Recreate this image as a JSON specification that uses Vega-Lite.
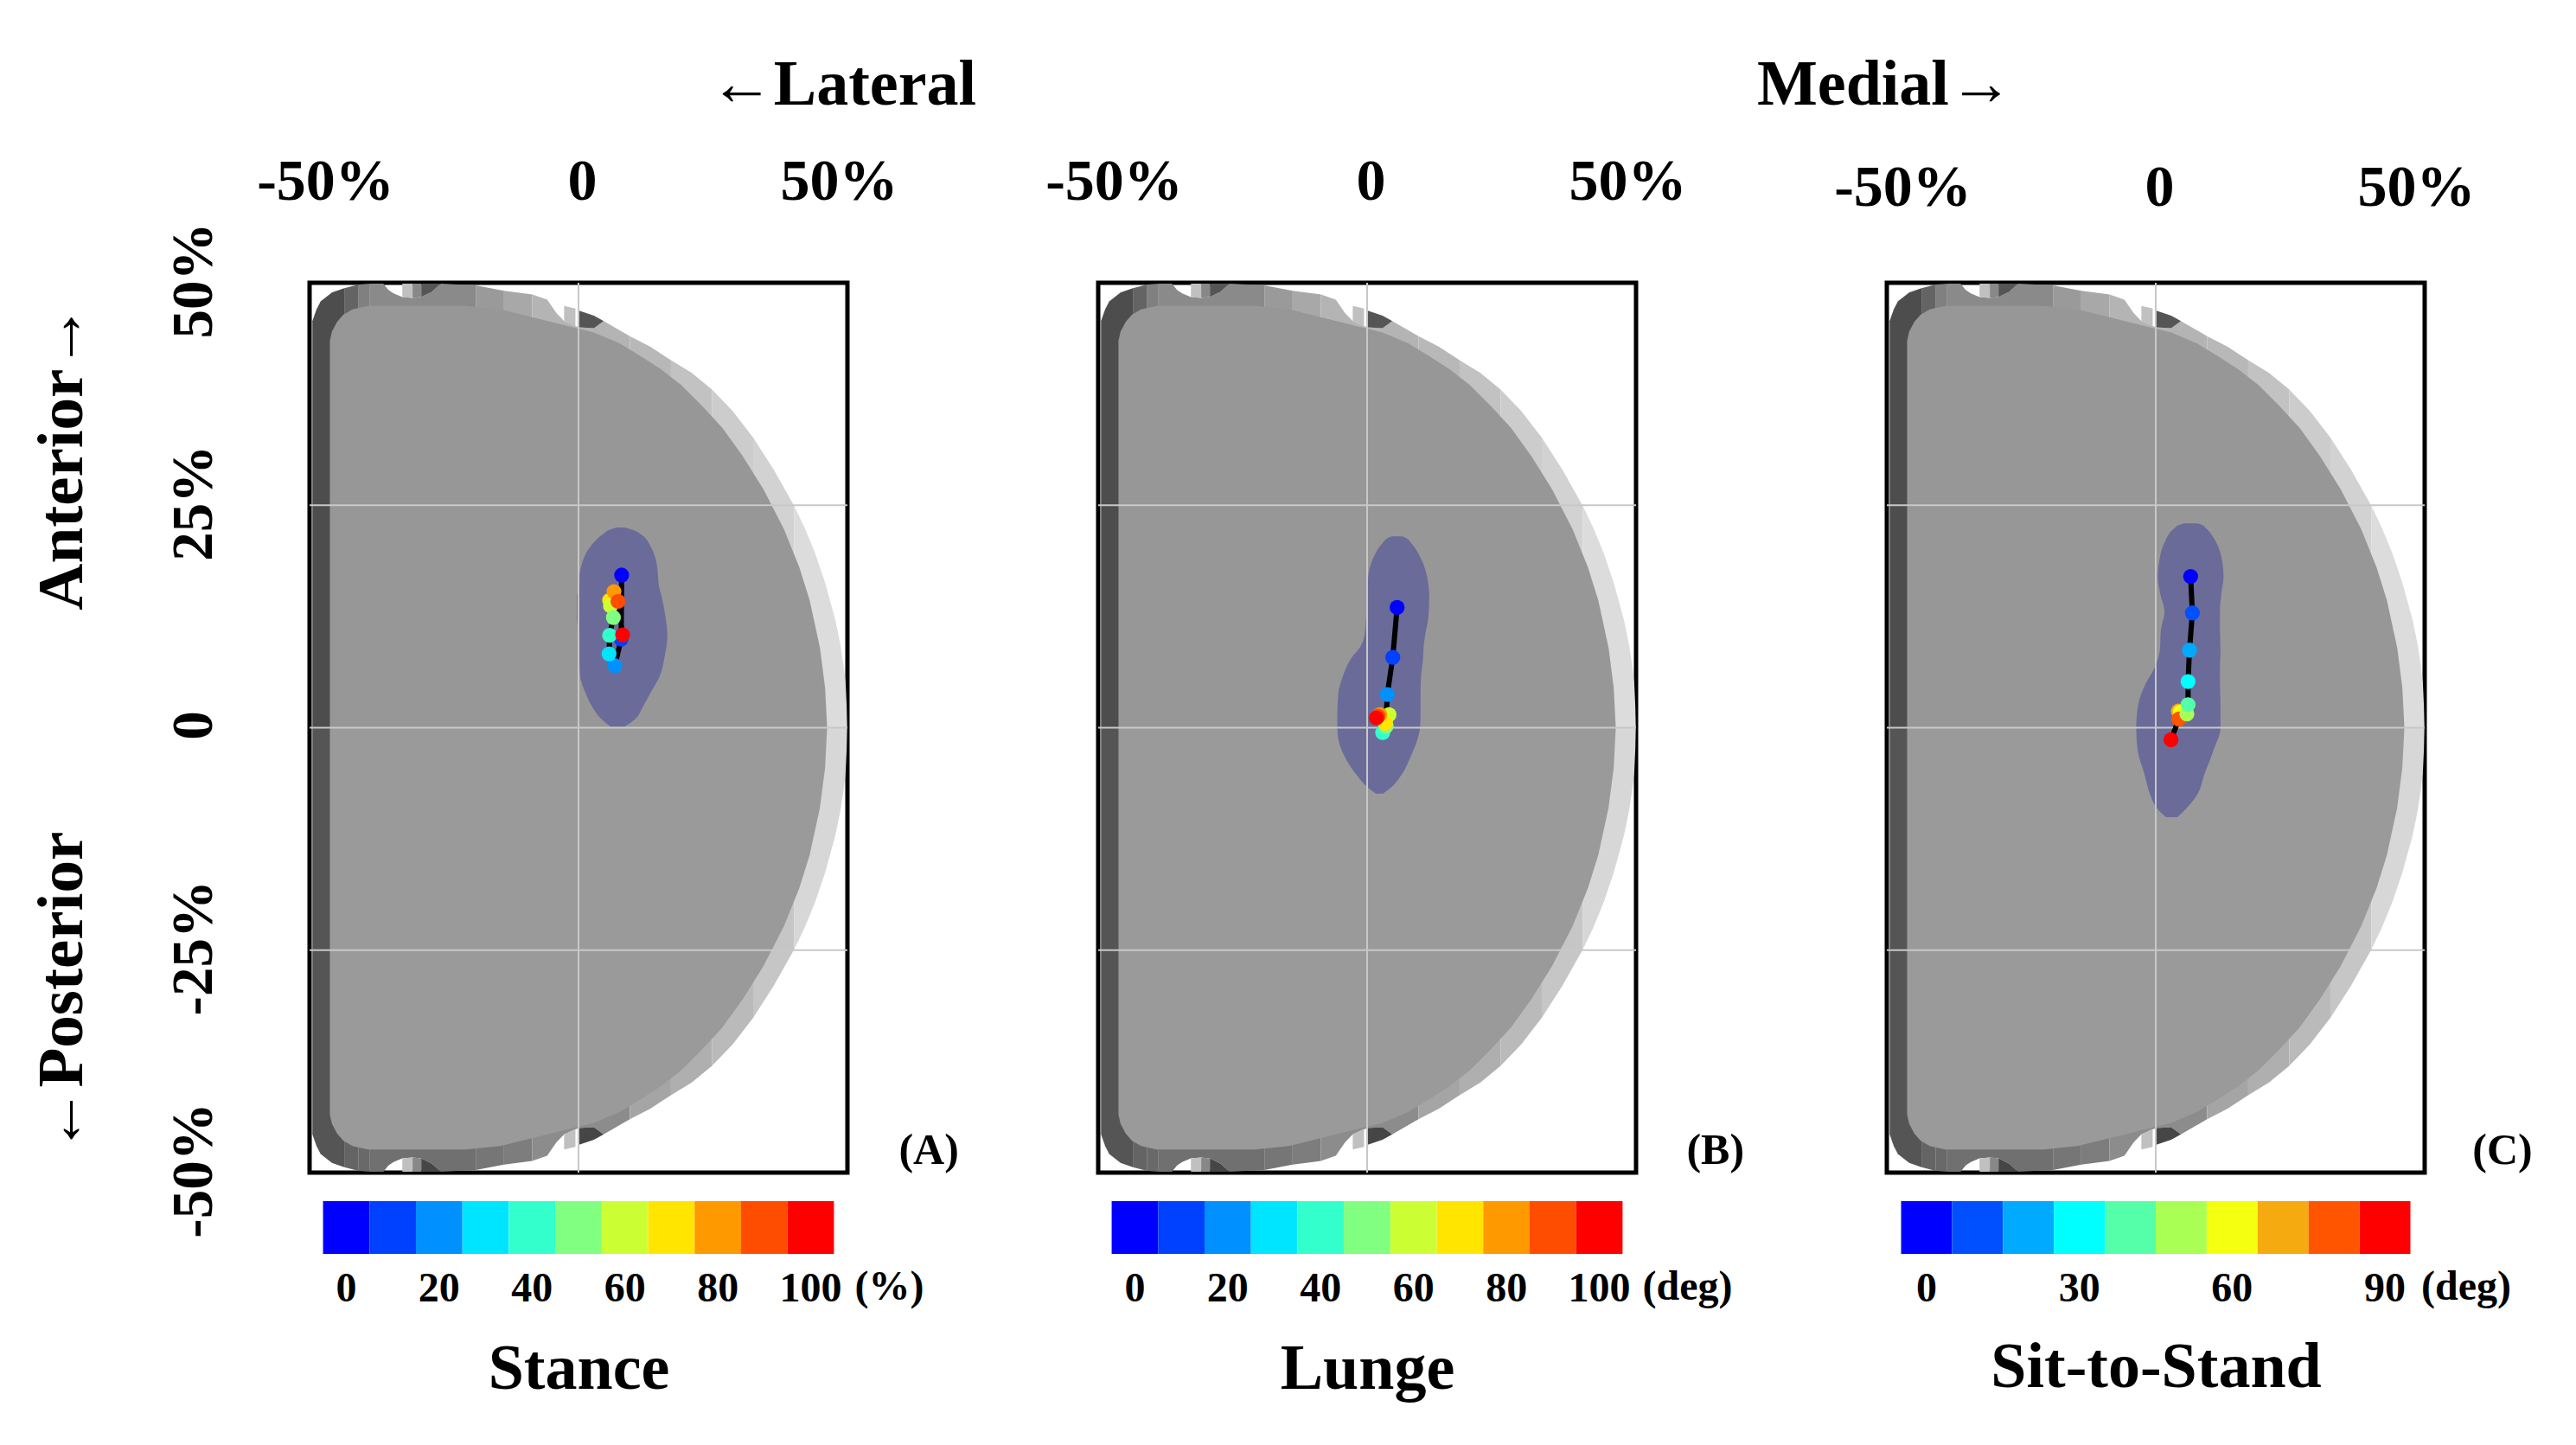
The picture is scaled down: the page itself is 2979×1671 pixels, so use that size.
{
  "$schema": "https://vega.github.io/schema/vega-lite/v6.json",
  "background": "white",
  "padding": {"left": 32, "top": 59, "right": 5, "bottom": 5},
  "bounds": "flush",
  "columns": 3,
  "spacing": {"column": 290, "row": 33},
  "resolve": {"scale": {"color": "independent"}},
  "config": {
    "font": "Liberation Serif",
    "axis": {"labelFont": "Liberation Serif", "labelFontWeight": "bold", "labelColor": "#000", "titleFont": "Liberation Serif", "titleFontWeight": "bold", "titleColor": "#000", "domain": false, "ticks": false, "grid": false},
    "text": {"font": "Liberation Serif", "fontWeight": "bold", "color": "#000"}
  },
  "datasets": {
    "implant": [
      {"seg":"t1","tone":77,"x":-51.8,"y":45.7,"y2":0},{"seg":"t1","tone":77,"x":-51,"y":47,"y2":0},{"seg":"t1","tone":77,"x":-50.2,"y":47.9,"y2":0},{"seg":"t1","tone":77,"x":-48,"y":48.9,"y2":0},{"seg":"t1","tone":77,"x":-45.6,"y":49.4,"y2":0},
      {"seg":"t2","tone":100,"x":-45.6,"y":49.4,"y2":0},{"seg":"t2","tone":100,"x":-42.8,"y":49.8,"y2":0},
      {"seg":"t3","tone":128,"x":-42.8,"y":49.8,"y2":0},{"seg":"t3","tone":128,"x":-40.6,"y":49.9,"y2":0},
      {"seg":"t4","tone":138,"x":-40.6,"y":49.9,"y2":0},{"seg":"t4","tone":138,"x":-38,"y":49.9,"y2":0},{"seg":"t4","tone":138,"x":-37,"y":49.2,"y2":0},{"seg":"t4","tone":138,"x":-36,"y":48.8,"y2":0},{"seg":"t4","tone":138,"x":-34.3,"y":48.4,"y2":0},{"seg":"t4","tone":138,"x":-32.3,"y":48.3,"y2":0},{"seg":"t4","tone":138,"x":-30.6,"y":48.4,"y2":0},{"seg":"t4","tone":138,"x":-28.5,"y":49,"y2":0},{"seg":"t4","tone":138,"x":-26.8,"y":49.9,"y2":0},{"seg":"t4","tone":138,"x":-20,"y":49.7,"y2":0},
      {"seg":"t5","tone":154,"x":-20,"y":49.7,"y2":0},{"seg":"t5","tone":154,"x":-14.5,"y":49.1,"y2":0},
      {"seg":"t6","tone":168,"x":-14.5,"y":49.1,"y2":0},{"seg":"t6","tone":168,"x":-9,"y":48.7,"y2":0},
      {"seg":"t7","tone":180,"x":-9,"y":48.7,"y2":0},{"seg":"t7","tone":180,"x":-6.1,"y":48.1,"y2":0},{"seg":"t7","tone":180,"x":-4.3,"y":46.6,"y2":0},{"seg":"t7","tone":180,"x":-2.8,"y":45.7,"y2":0},{"seg":"t7","tone":180,"x":0,"y":45,"y2":0},{"seg":"t7","tone":180,"x":3,"y":44.9,"y2":0},{"seg":"t7","tone":180,"x":4.9,"y":45.7,"y2":0},{"seg":"t7","tone":180,"x":10,"y":44,"y2":0},
      {"seg":"t8","tone":184,"x":10,"y":44,"y2":0},{"seg":"t8","tone":184,"x":14,"y":42.8,"y2":0},{"seg":"t8","tone":184,"x":18,"y":41.3,"y2":0},
      {"seg":"t9","tone":194,"x":18,"y":41.3,"y2":0},{"seg":"t9","tone":194,"x":22,"y":39.9,"y2":0},{"seg":"t9","tone":194,"x":26,"y":38,"y2":0},
      {"seg":"t10","tone":204,"x":26,"y":38,"y2":0},{"seg":"t10","tone":204,"x":30,"y":35.6,"y2":0},{"seg":"t10","tone":204,"x":34,"y":32.6,"y2":0},
      {"seg":"t11","tone":210,"x":34,"y":32.6,"y2":0},{"seg":"t11","tone":210,"x":38,"y":29,"y2":0},{"seg":"t11","tone":210,"x":42,"y":24.9,"y2":0},
      {"seg":"t12","tone":220,"x":42,"y":24.9,"y2":0},{"seg":"t12","tone":220,"x":44,"y":22.5,"y2":0},{"seg":"t12","tone":220,"x":46,"y":19.7,"y2":0},{"seg":"t12","tone":220,"x":48,"y":16.3,"y2":0},{"seg":"t12","tone":220,"x":50,"y":12.1,"y2":0},{"seg":"t12","tone":220,"x":51,"y":9.3,"y2":0},{"seg":"t12","tone":220,"x":51.6,"y":7,"y2":0},{"seg":"t12","tone":220,"x":52,"y":5,"y2":0},{"seg":"t12","tone":220,"x":52.2,"y":2.5,"y2":0},{"seg":"t12","tone":220,"x":52.3,"y":0,"y2":0},
      {"seg":"n1","tone":192,"x":-34.3,"y":49.9,"y2":48.4},{"seg":"n1","tone":192,"x":-32.3,"y":49.9,"y2":48.3},
      {"seg":"n2","tone":136,"x":-32.3,"y":49.9,"y2":48.3},{"seg":"n2","tone":136,"x":-30.6,"y":49.9,"y2":48.4},
      {"seg":"n3","tone":85,"x":-30.6,"y":49.9,"y2":48.4},{"seg":"n3","tone":85,"x":-28.5,"y":49.9,"y2":49},{"seg":"n3","tone":85,"x":-26.8,"y":49.9,"y2":49.9},
      {"seg":"n4","tone":192,"x":-2.8,"y":47.4,"y2":45.7},{"seg":"n4","tone":192,"x":-0.6,"y":47.1,"y2":45.1},
      {"seg":"n5","tone":85,"x":0,"y":46.9,"y2":45},{"seg":"n5","tone":85,"x":3,"y":46.3,"y2":44.9},{"seg":"n5","tone":85,"x":4.9,"y":45.7,"y2":45.7},
      {"seg":"b1","tone":85,"x":-51.8,"y":-45.7,"y2":0},{"seg":"b1","tone":85,"x":-51,"y":-47,"y2":0},{"seg":"b1","tone":85,"x":-50.2,"y":-47.9,"y2":0},{"seg":"b1","tone":85,"x":-48,"y":-48.9,"y2":0},{"seg":"b1","tone":85,"x":-45.6,"y":-49.4,"y2":0},
      {"seg":"b2","tone":100,"x":-45.6,"y":-49.4,"y2":0},{"seg":"b2","tone":100,"x":-42.8,"y":-49.8,"y2":0},
      {"seg":"b3","tone":105,"x":-42.8,"y":-49.8,"y2":0},{"seg":"b3","tone":105,"x":-40.6,"y":-49.9,"y2":0},
      {"seg":"b4","tone":112,"x":-40.6,"y":-49.9,"y2":0},{"seg":"b4","tone":112,"x":-38,"y":-49.9,"y2":0},{"seg":"b4","tone":112,"x":-37,"y":-49.2,"y2":0},{"seg":"b4","tone":112,"x":-36,"y":-48.8,"y2":0},{"seg":"b4","tone":112,"x":-34.3,"y":-48.4,"y2":0},{"seg":"b4","tone":112,"x":-32.3,"y":-48.3,"y2":0},{"seg":"b4","tone":112,"x":-30.6,"y":-48.4,"y2":0},{"seg":"b4","tone":112,"x":-28.5,"y":-49,"y2":0},{"seg":"b4","tone":112,"x":-26.8,"y":-49.9,"y2":0},{"seg":"b4","tone":112,"x":-20,"y":-49.7,"y2":0},
      {"seg":"b5","tone":118,"x":-20,"y":-49.7,"y2":0},{"seg":"b5","tone":118,"x":-14.5,"y":-49.1,"y2":0},
      {"seg":"b6","tone":125,"x":-14.5,"y":-49.1,"y2":0},{"seg":"b6","tone":125,"x":-9,"y":-48.7,"y2":0},
      {"seg":"b7","tone":140,"x":-9,"y":-48.7,"y2":0},{"seg":"b7","tone":140,"x":-6.1,"y":-48.1,"y2":0},{"seg":"b7","tone":140,"x":-4.3,"y":-46.6,"y2":0},{"seg":"b7","tone":140,"x":-2.8,"y":-45.7,"y2":0},{"seg":"b7","tone":140,"x":0,"y":-45,"y2":0},{"seg":"b7","tone":140,"x":3,"y":-44.9,"y2":0},{"seg":"b7","tone":140,"x":4.9,"y":-45.7,"y2":0},{"seg":"b7","tone":140,"x":10,"y":-44,"y2":0},
      {"seg":"b8","tone":165,"x":10,"y":-44,"y2":0},{"seg":"b8","tone":165,"x":14,"y":-42.8,"y2":0},{"seg":"b8","tone":165,"x":18,"y":-41.3,"y2":0},
      {"seg":"b9","tone":175,"x":18,"y":-41.3,"y2":0},{"seg":"b9","tone":175,"x":22,"y":-39.9,"y2":0},{"seg":"b9","tone":175,"x":26,"y":-38,"y2":0},
      {"seg":"b10","tone":186,"x":26,"y":-38,"y2":0},{"seg":"b10","tone":186,"x":30,"y":-35.6,"y2":0},{"seg":"b10","tone":186,"x":34,"y":-32.6,"y2":0},
      {"seg":"b11","tone":198,"x":34,"y":-32.6,"y2":0},{"seg":"b11","tone":198,"x":38,"y":-29,"y2":0},{"seg":"b11","tone":198,"x":42,"y":-24.9,"y2":0},
      {"seg":"b12","tone":215,"x":42,"y":-24.9,"y2":0},{"seg":"b12","tone":215,"x":44,"y":-22.5,"y2":0},{"seg":"b12","tone":215,"x":46,"y":-19.7,"y2":0},{"seg":"b12","tone":215,"x":48,"y":-16.3,"y2":0},{"seg":"b12","tone":215,"x":50,"y":-12.1,"y2":0},{"seg":"b12","tone":215,"x":51,"y":-9.3,"y2":0},{"seg":"b12","tone":215,"x":51.6,"y":-7,"y2":0},{"seg":"b12","tone":215,"x":52,"y":-5,"y2":0},{"seg":"b12","tone":215,"x":52.2,"y":-2.5,"y2":0},{"seg":"b12","tone":215,"x":52.3,"y":0,"y2":0},
      {"seg":"m1","tone":192,"x":-34.3,"y":-49.9,"y2":-48.4},{"seg":"m1","tone":192,"x":-32.3,"y":-49.9,"y2":-48.3},
      {"seg":"m2","tone":136,"x":-32.3,"y":-49.9,"y2":-48.3},{"seg":"m2","tone":136,"x":-30.6,"y":-49.9,"y2":-48.4},
      {"seg":"m3","tone":70,"x":-30.6,"y":-49.9,"y2":-48.4},{"seg":"m3","tone":70,"x":-28.5,"y":-49.9,"y2":-49},{"seg":"m3","tone":70,"x":-26.8,"y":-49.9,"y2":-49.9},
      {"seg":"m4","tone":192,"x":-2.8,"y":-47.4,"y2":-45.7},{"seg":"m4","tone":192,"x":-0.6,"y":-47.1,"y2":-45.1},
      {"seg":"m5","tone":70,"x":0,"y":-46.9,"y2":-45},{"seg":"m5","tone":70,"x":3,"y":-46.3,"y2":-44.9},{"seg":"m5","tone":70,"x":4.9,"y":-45.7,"y2":-45.7}
    ],
    "surface": [
      {"seg":"up","tone":151,"x":-48.4,"y":43.5,"y2":0},{"seg":"up","tone":151,"x":-48,"y":44.5,"y2":0},{"seg":"up","tone":151,"x":-47,"y":45.6,"y2":0},{"seg":"up","tone":151,"x":-45.8,"y":46.4,"y2":0},{"seg":"up","tone":151,"x":-44,"y":47,"y2":0},{"seg":"up","tone":151,"x":-41,"y":47.4,"y2":0},{"seg":"up","tone":151,"x":-21.8,"y":47.4,"y2":0},{"seg":"up","tone":151,"x":-15.2,"y":47,"y2":0},{"seg":"up","tone":151,"x":3,"y":44.4,"y2":0},{"seg":"up","tone":151,"x":8,"y":43.2,"y2":0},{"seg":"up","tone":151,"x":12,"y":41.8,"y2":0},{"seg":"up","tone":151,"x":16,"y":40.3,"y2":0},{"seg":"up","tone":151,"x":20,"y":38.5,"y2":0},{"seg":"up","tone":151,"x":24,"y":36.2,"y2":0},{"seg":"up","tone":151,"x":28,"y":33.7,"y2":0},{"seg":"up","tone":151,"x":32,"y":30.5,"y2":0},{"seg":"up","tone":151,"x":36,"y":26.8,"y2":0},{"seg":"up","tone":151,"x":40,"y":22.3,"y2":0},{"seg":"up","tone":151,"x":43,"y":18,"y2":0},{"seg":"up","tone":151,"x":45,"y":14.3,"y2":0},{"seg":"up","tone":151,"x":47,"y":9,"y2":0},{"seg":"up","tone":151,"x":48,"y":4.5,"y2":0},{"seg":"up","tone":151,"x":48.4,"y":0,"y2":0},
      {"seg":"low","tone":154,"x":-48.4,"y":-43.5,"y2":0},{"seg":"low","tone":154,"x":-48,"y":-44.5,"y2":0},{"seg":"low","tone":154,"x":-47,"y":-45.6,"y2":0},{"seg":"low","tone":154,"x":-45.8,"y":-46.4,"y2":0},{"seg":"low","tone":154,"x":-44,"y":-47,"y2":0},{"seg":"low","tone":154,"x":-41,"y":-47.4,"y2":0},{"seg":"low","tone":154,"x":-21.8,"y":-47.4,"y2":0},{"seg":"low","tone":154,"x":-15.2,"y":-47,"y2":0},{"seg":"low","tone":154,"x":3,"y":-44.4,"y2":0},{"seg":"low","tone":154,"x":8,"y":-43.2,"y2":0},{"seg":"low","tone":154,"x":12,"y":-41.8,"y2":0},{"seg":"low","tone":154,"x":16,"y":-40.3,"y2":0},{"seg":"low","tone":154,"x":20,"y":-38.5,"y2":0},{"seg":"low","tone":154,"x":24,"y":-36.2,"y2":0},{"seg":"low","tone":154,"x":28,"y":-33.7,"y2":0},{"seg":"low","tone":154,"x":32,"y":-30.5,"y2":0},{"seg":"low","tone":154,"x":36,"y":-26.8,"y2":0},{"seg":"low","tone":154,"x":40,"y":-22.3,"y2":0},{"seg":"low","tone":154,"x":43,"y":-18,"y2":0},{"seg":"low","tone":154,"x":45,"y":-14.3,"y2":0},{"seg":"low","tone":154,"x":47,"y":-9,"y2":0},{"seg":"low","tone":154,"x":48,"y":-4.5,"y2":0},{"seg":"low","tone":154,"x":48.4,"y":0,"y2":0}
    ],
    "blobs": [
      {"panel":"A","y":22.5,"xl":7.5,"xr":9},{"panel":"A","y":22.3,"xl":6.3,"xr":10.2},{"panel":"A","y":21.8,"xl":4.9,"xr":12},{"panel":"A","y":20.2,"xl":2.1,"xr":14.2},{"panel":"A","y":18.5,"xl":0.7,"xr":15.2},{"panel":"A","y":16.9,"xl":0.2,"xr":15.5},{"panel":"A","y":16.1,"xl":0.2,"xr":15.6},{"panel":"A","y":14.7,"xl":-0.3,"xr":16.2},{"panel":"A","y":12.2,"xl":-0.3,"xr":17},{"panel":"A","y":10.4,"xl":0.2,"xr":17.3},{"panel":"A","y":7.8,"xl":0.2,"xr":16.7},{"panel":"A","y":5.9,"xl":0.3,"xr":15.9},{"panel":"A","y":4,"xl":1.3,"xr":14.1},{"panel":"A","y":2.3,"xl":2.7,"xr":12.5},{"panel":"A","y":1,"xl":4.4,"xr":11.1},{"panel":"A","y":0.1,"xl":6.3,"xr":8.9},
      {"panel":"B","y":21.5,"xl":4.8,"xr":6.8},{"panel":"B","y":21.3,"xl":4,"xr":7.6},{"panel":"B","y":20.8,"xl":3.1,"xr":8.5},{"panel":"B","y":19.1,"xl":1.2,"xr":10.4},{"panel":"B","y":16.9,"xl":0.2,"xr":11.7},{"panel":"B","y":14.6,"xl":0,"xr":12.1},{"panel":"B","y":12.3,"xl":-0.2,"xr":11.9},{"panel":"B","y":10.4,"xl":-0.5,"xr":11.3},{"panel":"B","y":9.1,"xl":-1.3,"xr":11},{"panel":"B","y":7.8,"xl":-3.1,"xr":10.9},{"panel":"B","y":5.8,"xl":-4.7,"xr":10.5},{"panel":"B","y":3.9,"xl":-5.6,"xr":10.4},{"panel":"B","y":1.3,"xl":-5.8,"xr":10.4},{"panel":"B","y":0,"xl":-5.8,"xr":10.3},{"panel":"B","y":-1.3,"xl":-5.6,"xr":9.8},{"panel":"B","y":-3.2,"xl":-4.4,"xr":8.5},{"panel":"B","y":-5.2,"xl":-2.2,"xr":6.8},{"panel":"B","y":-6.8,"xl":0.3,"xr":4.5},{"panel":"B","y":-7.4,"xl":1.7,"xr":3.1},
      {"panel":"C","y":22.96,"xl":5.6,"xr":8.1},{"panel":"C","y":22.8,"xl":4.6,"xr":9},{"panel":"C","y":22.4,"xl":3.6,"xr":9.8},{"panel":"C","y":20.8,"xl":1.7,"xr":11.8},{"panel":"C","y":18.8,"xl":0.7,"xr":12.9},{"panel":"C","y":16.9,"xl":0.4,"xr":13.2},{"panel":"C","y":15.2,"xl":0.8,"xr":12.8},{"panel":"C","y":13,"xl":1.7,"xr":12.5},{"panel":"C","y":11,"xl":1,"xr":12.5},{"panel":"C","y":8.75,"xl":0.8,"xr":12.6},{"panel":"C","y":6.65,"xl":-0.3,"xr":12.5},{"panel":"C","y":4.9,"xl":-2,"xr":12.5},{"panel":"C","y":2.6,"xl":-3.4,"xr":12.6},{"panel":"C","y":0,"xl":-3.8,"xr":12.6},{"panel":"C","y":-2.6,"xl":-3.5,"xr":11.2},{"panel":"C","y":-5.2,"xl":-2.2,"xr":9.5},{"panel":"C","y":-7.5,"xl":-1.1,"xr":8.1},{"panel":"C","y":-9.1,"xl":0.3,"xr":5.9},{"panel":"C","y":-10.05,"xl":2,"xr":4.2}
    ],
    "pathA": [
      {"value":10,"x":8.3,"y":9.95},{"value":20,"x":7.07,"y":6.97},{"value":30,"x":5.95,"y":8.3},{"value":40,"x":6.06,"y":10.38},{"value":70,"x":6.06,"y":14.33},{"value":60,"x":6.23,"y":13.68},{"value":50,"x":6.79,"y":12.39},{"value":0,"x":8.4,"y":17.15},{"value":80,"x":6.9,"y":15.3},{"value":90,"x":7.69,"y":14.2},{"value":100,"x":8.59,"y":10.44}
    ],
    "pathB": [
      {"value":0,"x":5.84,"y":13.52},{"value":10,"x":4.99,"y":7.91},{"value":20,"x":3.93,"y":3.73},{"value":30,"x":3.7,"y":0.97},{"value":40,"x":3.03,"y":-0.55},{"value":50,"x":3.7,"y":0.16},{"value":60,"x":4.26,"y":1.46},{"value":70,"x":3.59,"y":0.49},{"value":80,"x":2.47,"y":1.46},{"value":90,"x":2.13,"y":1.3},{"value":100,"x":1.8,"y":1.1}
    ],
    "pathC": [
      {"value":0,"x":6.79,"y":17.0},{"value":10,"x":7.13,"y":12.9},{"value":20,"x":6.57,"y":8.72},{"value":30,"x":6.29,"y":5.19},{"value":70,"x":4.4,"y":1.87},{"value":60,"x":4.77,"y":1.77},{"value":80,"x":4.5,"y":0.97},{"value":50,"x":6.06,"y":1.55},{"value":40,"x":6.29,"y":2.59},{"value":90,"x":2.97,"y":-1.36}
    ],
    "barAB": [{"value":0},{"value":10},{"value":20},{"value":30},{"value":40},{"value":50},{"value":60},{"value":70},{"value":80},{"value":90},{"value":100}],
    "barC": [{"value":0},{"value":10},{"value":20},{"value":30},{"value":40},{"value":50},{"value":60},{"value":70},{"value":80},{"value":90}]
  },
  "concat": [
    {
      "width": 622, "height": 1029,
      "view": {"stroke": "#000", "strokeWidth": 5},
      "resolve": {"scale": {"color": "independent"}},
      "encoding": {
        "x": {"field": "x", "type": "quantitative", "scale": {"domain": [-52.35, 52.35], "nice": false, "zero": false}, "axis": {"orient": "top", "title": null, "values": [-50, 0, 50], "labelExpr": "datum.value === 0 ? '0' : datum.value + '%'", "labelFontSize": 68, "labelPadding": 117, "labelBaseline": "middle", "labelOverlap": false, "labelBound": false, "labelOffset": 4}},
        "y": {"field": "y", "type": "quantitative", "scale": {"domain": [-50, 50], "nice": false, "zero": false}, "axis": {"title": null, "values": [-50, -25, 0, 25, 50], "labelExpr": "datum.value === 0 ? '0' : datum.value + '%'", "labelFontSize": 67, "labelPadding": 134, "labelAngle": 270, "labelAlign": "center", "labelBaseline": "middle", "labelOverlap": false, "labelBound": false, "labelOffset": -3}}
      },
      "layer": [
        {"data": {"name": "implant"}, "mark": {"type": "area"}, "encoding": {"y2": {"field": "y2"}, "detail": {"field": "seg"}, "color": {"field": "tone", "type": "quantitative", "scale": {"domain": [0, 255], "range": ["#000000", "#ffffff"], "interpolate": "rgb"}, "legend": null}}},
        {"data": {"name": "surface"}, "mark": {"type": "area"}, "encoding": {"y2": {"field": "y2"}, "detail": {"field": "seg"}, "color": {"field": "tone", "type": "quantitative", "scale": {"domain": [0, 255], "range": ["#000000", "#ffffff"], "interpolate": "rgb"}, "legend": null}}},
        {"data": {"name": "blobs"}, "transform": [{"filter": "datum.panel === 'A'"}], "mark": {"type": "area", "orient": "horizontal", "color": "#6b6b99", "interpolate": "monotone"}, "encoding": {"x": {"field": "xl", "type": "quantitative"}, "x2": {"field": "xr"}}},
        {"data": {"values": [{"x": 0}]}, "mark": {"type": "rule", "color": "#c8c8c8", "strokeWidth": 2}, "encoding": {"y": null}},
        {"data": {"values": [{"y": 25}, {"y": 0}, {"y": -25}]}, "mark": {"type": "rule", "color": "#c8c8c8", "strokeWidth": 2}, "encoding": {"x": null}},
        {"data": {"name": "pathA"}, "mark": {"type": "line", "color": "#000", "strokeWidth": 6}, "encoding": {"order": {"field": "value", "type": "quantitative"}}},
        {"data": {"name": "pathA"}, "mark": {"type": "circle", "size": 300, "opacity": 1}, "encoding": {"color": {"field": "value", "type": "ordinal", "scale": {"domain": [0, 10, 20, 30, 40, 50, 60, 70, 80, 90, 100], "range": ["#0000ff", "#0040ff", "#0090ff", "#00e5ff", "#33ffcc", "#80ff80", "#ccff33", "#ffe500", "#ff9900", "#ff4d00", "#ff0000"]}, "legend": null}}},
        {"data": {"values": [{"text": "←Lateral", "x": 51.5, "y": 72.2}]}, "mark": {"type": "text", "fontSize": 74}, "encoding": {"text": {"field": "text"}}},
        {"data": {"values": [{"text": "Anterior→", "x": -100.5, "y": 30.4}, {"text": "←Posterior", "x": -100.5, "y": -29.7}]}, "mark": {"type": "text", "fontSize": 75, "angle": 270}, "encoding": {"text": {"field": "text"}}},
        {"data": {"values": [{"text": "(A)", "x": 68.2, "y": -47.6}]}, "mark": {"type": "text", "fontSize": 50}, "encoding": {"text": {"field": "text"}}}
      ]
    },
    {
      "width": 622, "height": 1029,
      "view": {"stroke": "#000", "strokeWidth": 5},
      "resolve": {"scale": {"color": "independent"}},
      "encoding": {
        "x": {"field": "x", "type": "quantitative", "scale": {"domain": [-52.35, 52.35], "nice": false, "zero": false}, "axis": {"orient": "top", "title": null, "values": [-50, 0, 50], "labelExpr": "datum.value === 0 ? '0' : datum.value + '%'", "labelFontSize": 68, "labelPadding": 117, "labelBaseline": "middle", "labelOverlap": false, "labelBound": false, "labelOffset": 4}},
        "y": {"field": "y", "type": "quantitative", "scale": {"domain": [-50, 50], "nice": false, "zero": false}, "axis": null}
      },
      "layer": [
        {"data": {"name": "implant"}, "mark": {"type": "area"}, "encoding": {"y2": {"field": "y2"}, "detail": {"field": "seg"}, "color": {"field": "tone", "type": "quantitative", "scale": {"domain": [0, 255], "range": ["#000000", "#ffffff"], "interpolate": "rgb"}, "legend": null}}},
        {"data": {"name": "surface"}, "mark": {"type": "area"}, "encoding": {"y2": {"field": "y2"}, "detail": {"field": "seg"}, "color": {"field": "tone", "type": "quantitative", "scale": {"domain": [0, 255], "range": ["#000000", "#ffffff"], "interpolate": "rgb"}, "legend": null}}},
        {"data": {"name": "blobs"}, "transform": [{"filter": "datum.panel === 'B'"}], "mark": {"type": "area", "orient": "horizontal", "color": "#6b6b99", "interpolate": "monotone"}, "encoding": {"x": {"field": "xl", "type": "quantitative"}, "x2": {"field": "xr"}}},
        {"data": {"values": [{"x": 0}]}, "mark": {"type": "rule", "color": "#c8c8c8", "strokeWidth": 2}, "encoding": {"y": null}},
        {"data": {"values": [{"y": 25}, {"y": 0}, {"y": -25}]}, "mark": {"type": "rule", "color": "#c8c8c8", "strokeWidth": 2}, "encoding": {"x": null}},
        {"data": {"name": "pathB"}, "mark": {"type": "line", "color": "#000", "strokeWidth": 6}, "encoding": {"order": {"field": "value", "type": "quantitative"}}},
        {"data": {"name": "pathB"}, "mark": {"type": "circle", "size": 300, "opacity": 1}, "encoding": {"color": {"field": "value", "type": "ordinal", "scale": {"domain": [0, 10, 20, 30, 40, 50, 60, 70, 80, 90, 100], "range": ["#0000ff", "#0040ff", "#0090ff", "#00e5ff", "#33ffcc", "#80ff80", "#ccff33", "#ffe500", "#ff9900", "#ff4d00", "#ff0000"]}, "legend": null}}},
        {"data": {"values": [{"text": "(B)", "x": 67.8, "y": -47.6}]}, "mark": {"type": "text", "fontSize": 50}, "encoding": {"text": {"field": "text"}}}
      ]
    },
    {
      "width": 622, "height": 1029,
      "view": {"stroke": "#000", "strokeWidth": 5},
      "resolve": {"scale": {"color": "independent"}},
      "encoding": {
        "x": {"field": "x", "type": "quantitative", "scale": {"domain": [-52.35, 52.35], "nice": false, "zero": false}, "axis": {"orient": "top", "title": null, "values": [-50, 0, 50], "labelExpr": "datum.value === 0 ? '0' : datum.value + '%'", "labelFontSize": 68, "labelPadding": 110, "labelBaseline": "middle", "labelOverlap": false, "labelBound": false, "labelOffset": 4}},
        "y": {"field": "y", "type": "quantitative", "scale": {"domain": [-50, 50], "nice": false, "zero": false}, "axis": null}
      },
      "layer": [
        {"data": {"name": "implant"}, "mark": {"type": "area"}, "encoding": {"y2": {"field": "y2"}, "detail": {"field": "seg"}, "color": {"field": "tone", "type": "quantitative", "scale": {"domain": [0, 255], "range": ["#000000", "#ffffff"], "interpolate": "rgb"}, "legend": null}}},
        {"data": {"name": "surface"}, "mark": {"type": "area"}, "encoding": {"y2": {"field": "y2"}, "detail": {"field": "seg"}, "color": {"field": "tone", "type": "quantitative", "scale": {"domain": [0, 255], "range": ["#000000", "#ffffff"], "interpolate": "rgb"}, "legend": null}}},
        {"data": {"name": "blobs"}, "transform": [{"filter": "datum.panel === 'C'"}], "mark": {"type": "area", "orient": "horizontal", "color": "#6b6b99", "interpolate": "monotone"}, "encoding": {"x": {"field": "xl", "type": "quantitative"}, "x2": {"field": "xr"}}},
        {"data": {"values": [{"x": 0}]}, "mark": {"type": "rule", "color": "#c8c8c8", "strokeWidth": 2}, "encoding": {"y": null}},
        {"data": {"values": [{"y": 25}, {"y": 0}, {"y": -25}]}, "mark": {"type": "rule", "color": "#c8c8c8", "strokeWidth": 2}, "encoding": {"x": null}},
        {"data": {"name": "pathC"}, "mark": {"type": "line", "color": "#000", "strokeWidth": 6}, "encoding": {"order": {"field": "value", "type": "quantitative"}}},
        {"data": {"name": "pathC"}, "mark": {"type": "circle", "size": 300, "opacity": 1}, "encoding": {"color": {"field": "value", "type": "ordinal", "scale": {"domain": [0, 10, 20, 30, 40, 50, 60, 70, 80, 90], "range": ["#0000ff", "#0050ff", "#00aaff", "#00ffff", "#55ffaa", "#aaff55", "#f5ff10", "#f5aa10", "#ff5500", "#ff0000"]}, "legend": null}}},
        {"data": {"values": [{"text": "Medial→", "x": -52.7, "y": 72.2}]}, "mark": {"type": "text", "fontSize": 74}, "encoding": {"text": {"field": "text"}}},
        {"data": {"values": [{"text": "(C)", "x": 67.5, "y": -47.6}]}, "mark": {"type": "text", "fontSize": 50}, "encoding": {"text": {"field": "text"}}}
      ]
    },
    {
      "width": 622, "height": 61,
      "view": {"stroke": null},
      "encoding": {
        "x": {"field": "value", "type": "ordinal", "scale": {"paddingInner": 0, "paddingOuter": 0.29}, "axis": {"title": "Stance", "values": [0, 20, 40, 60, 80, 100], "labelAngle": 0, "labelFontSize": 48, "labelPadding": 16, "titleFontSize": 74, "titlePadding": 33}}
      },
      "layer": [
        {"data": {"name": "barAB"}, "mark": {"type": "rect"}, "encoding": {"color": {"field": "value", "type": "ordinal", "scale": {"domain": [0, 10, 20, 30, 40, 50, 60, 70, 80, 90, 100], "range": ["#0000ff", "#0040ff", "#0090ff", "#00e5ff", "#33ffcc", "#80ff80", "#ccff33", "#ffe500", "#ff9900", "#ff4d00", "#ff0000"]}, "legend": null}}},
        {"data": {"values": [{"value": 100, "unit": "(%)"}]}, "mark": {"type": "text", "align": "left", "dx": 51, "dy": 69, "fontSize": 48}, "encoding": {"text": {"field": "unit"}}}
      ]
    },
    {
      "width": 622, "height": 61,
      "view": {"stroke": null},
      "encoding": {
        "x": {"field": "value", "type": "ordinal", "scale": {"paddingInner": 0, "paddingOuter": 0.29}, "axis": {"title": "Lunge", "values": [0, 20, 40, 60, 80, 100], "labelAngle": 0, "labelFontSize": 48, "labelPadding": 16, "titleFontSize": 74, "titlePadding": 33}}
      },
      "layer": [
        {"data": {"name": "barAB"}, "mark": {"type": "rect"}, "encoding": {"color": {"field": "value", "type": "ordinal", "scale": {"domain": [0, 10, 20, 30, 40, 50, 60, 70, 80, 90, 100], "range": ["#0000ff", "#0040ff", "#0090ff", "#00e5ff", "#33ffcc", "#80ff80", "#ccff33", "#ffe500", "#ff9900", "#ff4d00", "#ff0000"]}, "legend": null}}},
        {"data": {"values": [{"value": 100, "unit": "(deg)"}]}, "mark": {"type": "text", "align": "left", "dx": 50, "dy": 69, "fontSize": 48}, "encoding": {"text": {"field": "unit"}}}
      ]
    },
    {
      "width": 622, "height": 61,
      "view": {"stroke": null},
      "encoding": {
        "x": {"field": "value", "type": "ordinal", "scale": {"paddingInner": 0, "paddingOuter": 0.28}, "axis": {"title": "Sit-to-Stand", "values": [0, 30, 60, 90], "labelAngle": 0, "labelFontSize": 48, "labelPadding": 16, "titleFontSize": 74, "titlePadding": 31}}
      },
      "layer": [
        {"data": {"name": "barC"}, "mark": {"type": "rect"}, "encoding": {"color": {"field": "value", "type": "ordinal", "scale": {"domain": [0, 10, 20, 30, 40, 50, 60, 70, 80, 90], "range": ["#0000ff", "#0050ff", "#00aaff", "#00ffff", "#55ffaa", "#aaff55", "#f5ff10", "#f5aa10", "#ff5500", "#ff0000"]}, "legend": null}}},
        {"data": {"values": [{"value": 90, "unit": "(deg)"}]}, "mark": {"type": "text", "align": "left", "dx": 42, "dy": 69, "fontSize": 48}, "encoding": {"text": {"field": "unit"}}}
      ]
    }
  ]
}
